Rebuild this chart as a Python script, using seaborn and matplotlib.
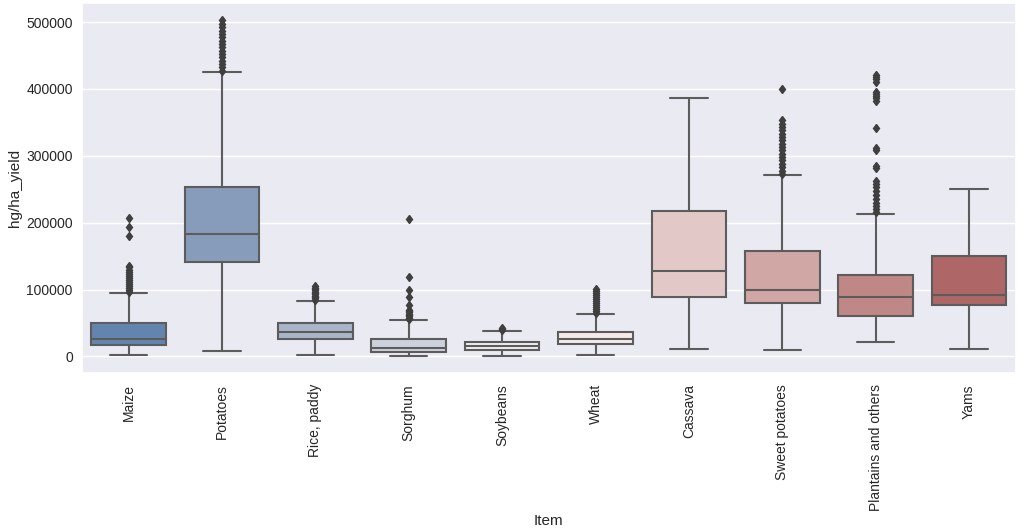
import matplotlib
matplotlib.use("Agg")
import matplotlib.pyplot as plt
import seaborn as sns

items = ["Maize", "Potatoes", "Rice, paddy", "Sorghum", "Soybeans",
         "Wheat", "Cassava", "Sweet potatoes", "Plantains and others", "Yams"]

# box statistics (hg/ha)
whisker_low = [2000, 8300, 2000, 500, 500, 2000, 11800, 10000, 21700, 11400]
q1 = [16800, 140500, 26700, 7400, 10400, 19300, 88900, 80200, 59900, 76800]
median = [25700, 182600, 36600, 12800, 15800, 26100, 128500, 98900, 89600, 92100]
q3 = [49500, 253300, 50400, 25700, 22300, 36600, 218200, 157400, 121200, 149500]
whisker_high = [95000, 424700, 83600, 54000, 38600, 63300, 386100, 270700, 212400, 250000]

# outliers per item
fliers = [
    [97000, 100000, 103000, 106000, 109000, 112000, 115000, 118000, 121000,
     124000, 127000, 130000, 133000, 135000, 180000, 193000, 207000],
    [427000, 432000, 437000, 442000, 447000, 452000, 457000, 462000, 467000,
     472000, 477000, 482000, 487000, 492000, 497000, 503000],
    [85000, 87000, 89000, 91000, 93000, 95000, 97000, 99000, 101000, 103000, 106000],
    [56000, 58000, 60000, 62000, 64000, 66000, 68000, 70000, 77000, 89500,
     99500, 119000, 205000],
    [40000, 41500, 43000],
    [65000, 68000, 71000, 74000, 77000, 80000, 83000, 86000, 89000, 92000,
     95000, 98000, 101000],
    [],
    [273000, 278000, 283000, 288000, 293000, 298000, 303000, 308000, 313000,
     318000, 323000, 328000, 333000, 338000, 343000, 348000, 353000, 400000],
    [216000, 220000, 225000, 230000, 236000, 242000, 248000, 253000, 258000,
     263000, 282000, 285000, 308000, 311000, 341000, 382000, 386000, 390000,
     393000, 396000, 411000, 415000, 418000, 421000],
    [],
]

sns.set_theme(style="darkgrid")
plt.rcParams["font.family"] = ["Liberation Sans", "DejaVu Sans"]

stats = []
for i, name in enumerate(items):
    stats.append({
        "label": name, "whislo": whisker_low[i], "q1": q1[i], "med": median[i],
        "q3": q3[i], "whishi": whisker_high[i], "fliers": fliers[i],
    })

colors = sns.color_palette("vlag", len(items))
colors = [sns.desaturate(c, 0.75) for c in colors]
line_col = "#5c5c5c"

fig, ax = plt.subplots(figsize=(10.23, 5.32), dpi=100)
bp = ax.bxp(stats, positions=range(len(items)), widths=0.8, patch_artist=True,
            boxprops=dict(edgecolor=line_col, linewidth=1.5),
            medianprops=dict(color=line_col, linewidth=1.5),
            whiskerprops=dict(color=line_col, linewidth=1.5),
            capprops=dict(color=line_col, linewidth=1.5),
            flierprops=dict(marker="d", markerfacecolor="#3f3f3f",
                            markeredgecolor="#3f3f3f", markersize=4.5))
for patch, c in zip(bp["boxes"], colors):
    patch.set_facecolor(c)

ax.set_xlim(-0.5, len(items) - 0.5)
ax.margins(y=0.05)
ax.set_xticks(range(len(items)))
ax.set_xticklabels(items, rotation=90)
ax.tick_params(axis="both", length=0, labelsize=10)
ax.tick_params(axis="y", pad=6.5)
ax.tick_params(axis="x", pad=8)
ax.set_xlabel("Item", fontsize=11, labelpad=2)
ax.set_ylabel("hg/ha_yield", fontsize=11, labelpad=3)
ax.grid(axis="x", visible=False)

fig.subplots_adjust(left=0.08, right=0.993, top=0.994, bottom=0.299)
fig.savefig("out.png")
